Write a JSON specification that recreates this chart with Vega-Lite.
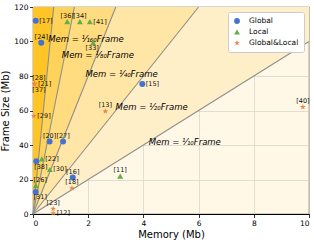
{
  "$schema": "https://vega.github.io/schema/vega-lite/v6.json",
  "autosize": {"type": "none"},
  "padding": {"left": 33, "top": 7, "right": 4, "bottom": 30},
  "width": 276,
  "height": 207,
  "config": {
    "font": "DejaVu Sans",
    "view": {"fill": "#FFF8E6", "stroke": "#000", "strokeWidth": 0.8},
    "axis": {
      "labelFont": "DejaVu Sans", "titleFont": "DejaVu Sans",
      "labelFontSize": 7.5, "titleFontSize": 10, "titleFontWeight": "normal",
      "labelColor": "#000", "titleColor": "#000",
      "domainColor": "#000", "tickColor": "#000", "tickSize": 3.5, "tickWidth": 0.8,
      "gridColor": "#d9d6cc", "gridWidth": 0.8, "labelPadding": 1.5, "zindex": 1
    }
  },
  "datasets": {
    "bounds": [
      {"k": 10, "x": 0, "y": 0}, {"k": 10, "x": 10, "y": 100},
      {"k": 20, "x": 0, "y": 0}, {"k": 20, "x": 6, "y": 120},
      {"k": 40, "x": 0, "y": 0}, {"k": 40, "x": 3, "y": 120},
      {"k": 80, "x": 0, "y": 0}, {"k": 80, "x": 1.5, "y": 120},
      {"k": 160, "x": 0, "y": 0}, {"k": 160, "x": 0.75, "y": 120}
    ],
    "lines": [
      {"k": 10, "x": 10, "y": 100},
      {"k": 20, "x": 6, "y": 120},
      {"k": 40, "x": 3, "y": 120},
      {"k": 80, "x": 1.5, "y": 120},
      {"k": 160, "x": 0.75, "y": 120}
    ],
    "eqs": [
      {"t": "Mem = ¹⁄₁₆₀Frame", "x": 1.92, "y": 101.6},
      {"t": "Mem = ¹⁄₈₀Frame", "x": 2.35, "y": 92},
      {"t": "Mem = ¹⁄₄₀Frame", "x": 3.21, "y": 81.3},
      {"t": "Mem = ¹⁄₂₀Frame", "x": 4.3, "y": 61.8},
      {"t": "Mem = ¹⁄₁₀Frame", "x": 5.5, "y": 41.6}
    ],
    "pts": [
      {"id": "[17]", "type": "Global", "x": 0.1, "y": 112},
      {"id": "[24]", "type": "Global", "x": 0.3, "y": 99.3},
      {"id": "[15]", "type": "Global", "x": 3.96, "y": 75.4},
      {"id": "[20]", "type": "Global", "x": 0.6, "y": 42},
      {"id": "[27]", "type": "Global", "x": 1.09, "y": 42},
      {"id": "[38]", "type": "Global", "x": 0.12, "y": 30.6},
      {"id": "[31]", "type": "Global", "x": 0.1, "y": 12.8},
      {"id": "[16]", "type": "Global", "x": 1.44, "y": 21.1},
      {"id": "[36]", "type": "Local", "x": 1.24, "y": 111.5},
      {"id": "[34]", "type": "Local", "x": 1.7, "y": 111.5},
      {"id": "[41]", "type": "Local", "x": 2.06, "y": 111.5},
      {"id": "[33]", "type": "Local", "x": 2.18, "y": 99.3},
      {"id": "[22]", "type": "Local", "x": 0.32, "y": 32},
      {"id": "[30]", "type": "Local", "x": 0.61, "y": 25.8},
      {"id": "[26]", "type": "Local", "x": 0.1, "y": 16.5},
      {"id": "[11]", "type": "Local", "x": 3.16, "y": 21.9},
      {"id": "[28]", "type": "Global&Local", "x": 0.05, "y": 75.6},
      {"id": "[21]", "type": "Global&Local", "x": 0.05, "y": 75.4},
      {"id": "[37]", "type": "Global&Local", "x": 0.05, "y": 75.2},
      {"id": "[13]", "type": "Global&Local", "x": 2.62, "y": 59.5},
      {"id": "[29]", "type": "Global&Local", "x": 0.03, "y": 56.8},
      {"id": "[18]", "type": "Global&Local", "x": 1.41, "y": 15},
      {"id": "[23]", "type": "Global&Local", "x": 0.73, "y": 3},
      {"id": "[12]", "type": "Global&Local", "x": 0.73, "y": 0.5},
      {"id": "[40]", "type": "Global&Local", "x": 9.78, "y": 62}
    ]
  },
  "encoding": {
    "x": {"field": "x", "type": "quantitative", "scale": {"domain": [0, 10], "nice": false},
          "axis": {"values": [0, 2, 4, 6, 8, 10], "title": "Memory (Mb)", "titlePadding": 3}},
    "y": {"field": "y", "type": "quantitative", "scale": {"domain": [0, 120], "nice": false},
          "axis": {"values": [0, 20, 40, 60, 80, 100, 120], "title": "Frame Size (Mb)", "titlePadding": 3}}
  },
  "layer": [
    {"data": {"name": "bounds"}, "transform": [{"filter": "datum.k == 10"}],
     "mark": {"type": "area", "color": "#FFEFC9"},
     "encoding": {"y": {"field": "y", "type": "quantitative", "stack": null}, "y2": {"datum": 120}}},
    {"data": {"name": "bounds"}, "transform": [{"filter": "datum.k == 20"}],
     "mark": {"type": "area", "color": "#FFE6A6"},
     "encoding": {"y": {"field": "y", "type": "quantitative", "stack": null}, "y2": {"datum": 120}}},
    {"data": {"name": "bounds"}, "transform": [{"filter": "datum.k == 40"}],
     "mark": {"type": "area", "color": "#FFDC80"},
     "encoding": {"y": {"field": "y", "type": "quantitative", "stack": null}, "y2": {"datum": 120}}},
    {"data": {"name": "bounds"}, "transform": [{"filter": "datum.k == 80"}],
     "mark": {"type": "area", "color": "#FFD25A"},
     "encoding": {"y": {"field": "y", "type": "quantitative", "stack": null}, "y2": {"datum": 120}}},
    {"data": {"name": "bounds"}, "transform": [{"filter": "datum.k == 160"}],
     "mark": {"type": "area", "color": "#FFC526"},
     "encoding": {"y": {"field": "y", "type": "quantitative", "stack": null}, "y2": {"datum": 120}}},
    {"data": {"name": "lines"},
     "mark": {"type": "rule", "color": "#8e8e8e", "strokeWidth": 1.1},
     "encoding": {"x": {"datum": 0}, "y": {"datum": 0}, "x2": {"field": "x"}, "y2": {"field": "y"}}},
    {"data": {"name": "eqs"},
     "mark": {"type": "text", "fontSize": 8.5, "fontStyle": "italic", "color": "#000", "align": "center", "baseline": "middle"},
     "encoding": {"text": {"field": "t"}}},
    {"data": {"name": "pts"},
     "mark": {"type": "point", "filled": true, "opacity": 1, "size": 36},
     "encoding": {
       "color": {"field": "type", "type": "nominal",
                 "scale": {"domain": ["Global", "Local", "Global&Local"], "range": ["#4472d0", "#5fae4a", "#ee854a"]},
                 "legend": {"title": null, "orient": "none", "legendX": 195, "legendY": 5,
                            "fillColor": "#ffffff", "strokeColor": "#cccccc", "cornerRadius": 2, "padding": 5,
                            "labelFontSize": 7.5, "labelFont": "DejaVu Sans", "labelColor": "#000", "rowPadding": 3,
                            "symbolSize": 34, "labelOffset": 8}},
       "shape": {"field": "type", "type": "nominal",
                 "scale": {"domain": ["Global", "Local", "Global&Local"], "range": ["circle", "triangle-up", "M0,-1L0.24,-0.33L0.95,-0.31L0.38,0.12L0.59,0.81L0,0.4L-0.59,0.81L-0.38,0.12L-0.95,-0.31L-0.24,-0.33Z"]}}
     }},
    {"data": {"name": "pts"}, "transform": [{"filter": {"field": "id", "oneOf": ["[17]", "[21]", "[15]", "[29]", "[22]", "[30]", "[12]", "[41]"]}}],
     "mark": {"type": "text", "fontSize": 6.5, "color": "#111", "align": "left", "baseline": "middle", "dx": 3.5},
     "encoding": {"text": {"field": "id"}}},
    {"data": {"name": "pts"}, "transform": [{"filter": {"field": "id", "oneOf": ["[24]", "[36]", "[34]", "[20]", "[27]", "[16]", "[18]", "[23]", "[11]", "[40]", "[13]"]}}],
     "mark": {"type": "text", "fontSize": 6.5, "color": "#111", "align": "center", "baseline": "bottom", "dy": -3},
     "encoding": {"text": {"field": "id"}}},
    {"data": {"name": "pts"}, "transform": [{"filter": {"field": "id", "oneOf": ["[28]", "[26]"]}}],
     "mark": {"type": "text", "fontSize": 6.5, "color": "#111", "align": "center", "baseline": "bottom", "dy": -2.5, "dx": 4.5},
     "encoding": {"text": {"field": "id"}}},
    {"data": {"name": "pts"}, "transform": [{"filter": {"field": "id", "oneOf": ["[37]", "[38]", "[31]"]}}],
     "mark": {"type": "text", "fontSize": 6.5, "color": "#111", "align": "center", "baseline": "top", "dy": 2.5, "dx": 4.5},
     "encoding": {"text": {"field": "id"}}},
    {"data": {"name": "pts"}, "transform": [{"filter": {"field": "id", "oneOf": ["[33]"]}}],
     "mark": {"type": "text", "fontSize": 6.5, "color": "#111", "align": "center", "baseline": "top", "dy": 2.5, "dx": -1},
     "encoding": {"text": {"field": "id"}}}
  ]
}
